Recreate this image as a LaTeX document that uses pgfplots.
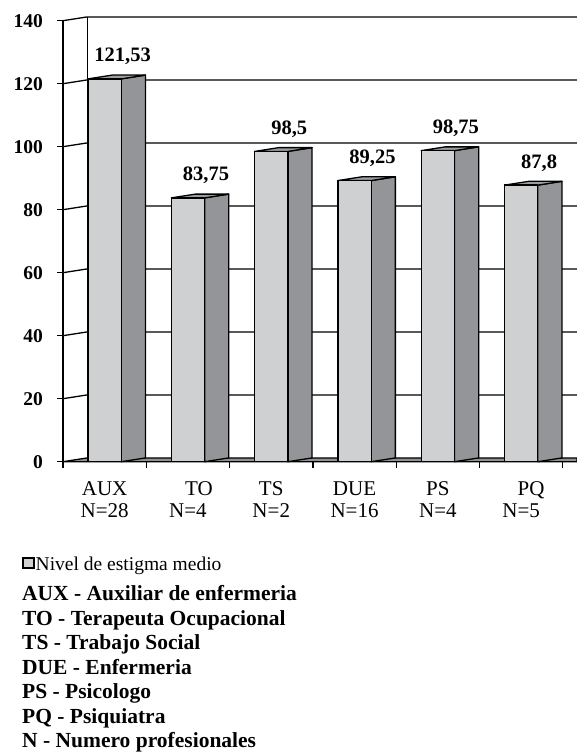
\documentclass[border=0pt]{standalone}
\usepackage{pgfplots}
\pgfplotsset{compat=1.18}
\usepackage{pgfplotstable}
\usepackage{fontspec}
\setmainfont{Liberation Serif}

\definecolor{frontgray}{HTML}{CED0D2}
\definecolor{sidegray}{HTML}{939598}
\definecolor{topgray}{HTML}{9C9DA0}
\definecolor{floorgray}{HTML}{8F9194}

% mean stigma level per professional group
\pgfplotstableread{
pos v lbl
0.5 121.53 121,53
1.5 83.75 83,75
2.5 98.5 98,5
3.5 89.25 89,25
4.5 98.75 98,75
5.5 87.8 87,8
}\stigma

% depth of the 3D extrusion (axis units) and half width of a bar
\newcommand\depx{0.29}
\newcommand\depy{1.2}
\newcommand\halfw{0.2}
\newcommand\xend{6.17}

\pgfplotsset{
  side face/.style={fill=sidegray, draw=black, line width=1.3pt, line join=round, forget plot, mark=none},
  top face/.style={fill=topgray, draw=black, line width=1.3pt, line join=round, forget plot, mark=none},
}

\begin{document}
\begin{tikzpicture}[x=1pt,y=1pt]
\path[use as bounding box] (0,0) rectangle (577,752);
\begin{axis}[
  at={(63pt,290.3pt)}, anchor=south west,
  x=83.3pt, y=3.15pt,
  xmin=0, xmax=\xend, ymin=0, ymax=140,
  clip=false,
  axis x line*=bottom, axis y line*=left,
  axis line style={-, line width=1.3pt, black},
  major tick length=0pt, minor tick length=0pt,
  tick style={draw=none},
  ytick={0,20,40,60,80,100,120,140},
  yticklabels={0,20,40,60,80,100,120,140},
  yticklabel style={font=\fontsize{19.5}{20}\selectfont\bfseries, inner sep=0pt, xshift=-20pt},
  xtick={0.5,1.5,2.5,3.5,4.5,5.5},
  xticklabels={{AUX\\N=28},{\hspace*{22pt}TO\\N=4},{TS\\N=2},{DUE\\N=16},{PS\\N=4},{\hspace*{20pt}PQ\\N=5}},
  xticklabel style={align=center, font=\fontsize{21}{22}\selectfont, inner sep=0pt, yshift=-20pt},
  legend style={at={(axis description cs:-0.0798,-0.2140)}, anchor=north west,
    draw=none, fill=none, inner sep=0pt, column sep=0pt,
    font=\fontsize{19.5}{20}\selectfont, nodes={inner sep=1pt}},
  legend cell align=left,
]

% back wall gridlines, continued across the left wall to the front ticks
\pgfplotsinvokeforeach{20,40,60,80,100,120,140}{
  \draw[black, line width=1.3pt] (axis cs:0,#1) -- (axis cs:\depx,#1+\depy) -- (axis cs:\xend,#1+\depy);
}
% left edge of the back wall
\draw[black, line width=1.3pt] (axis cs:\depx,\depy) -- (axis cs:\depx,140+\depy);
% floor
\filldraw[fill=floorgray, draw=black, line width=1.3pt, line join=round]
  (axis cs:0,0) -- (axis cs:\depx,\depy) -- (axis cs:\xend,\depy) -- (axis cs:\xend,0) -- cycle;

% tick marks
\pgfplotsinvokeforeach{0,20,40,60,80,100,120,140}{
  \draw[black, line width=1.3pt] (axis cs:0,#1) -- ++(-6pt,0);
}
\pgfplotsinvokeforeach{0,1,2,3,4,5,6}{
  \draw[black, line width=1.3pt] (axis cs:#1,0) -- ++(0,-6pt);
}

% side and top faces of each column
\pgfplotsinvokeforeach{0,1,2,3,4,5}{
  \pgfplotstablegetelem{#1}{v}\of\stigma
  \pgfmathsetmacro\va{\pgfplotsretval}
  \pgfmathsetmacro\vb{\va+\depy}
  \pgfmathsetmacro\xl{#1+0.5-\halfw}
  \pgfmathsetmacro\xr{#1+0.5+\halfw}
  \pgfmathsetmacro\xlb{\xl+\depx}
  \pgfmathsetmacro\xrb{\xr+\depx}
  \edef\faces{%
    \noexpand\addplot[side face] coordinates {(\xr,0) (\xrb,\depy) (\xrb,\vb) (\xr,\va)} -- cycle;
    \noexpand\addplot[top face] coordinates {(\xl,\va) (\xlb,\vb) (\xrb,\vb) (\xr,\va)} -- cycle;
  }\faces
}

% front faces of the columns
\addplot[ybar, bar width=0.4, fill=frontgray, draw=black, line width=1.3pt,
  area legend,
  legend image code/.code={\draw[fill=frontgray, line width=1.5pt] (0pt,-3pt) rectangle (11pt,7pt);},
  nodes near coords, point meta=explicit symbolic,
  nodes near coords style={anchor=base, xshift=18pt, yshift=17pt, inner sep=0pt,
    font=\fontsize{20.5}{21}\selectfont\bfseries, text=black}]
  table[x=pos, y=v, meta=lbl] {\stigma};
\addlegendentry{Nivel de estigma medio}
\end{axis}

\node[anchor=north west, inner sep=0pt, align=left,
  font=\fontsize{21.5}{24.5}\selectfont\bfseries] at (22,166.5)
  {AUX - Auxiliar de enfermeria\\
   TO - Terapeuta Ocupacional\\
   TS - Trabajo Social\\
   DUE - Enfermeria\\
   PS - Psicologo\\
   PQ - Psiquiatra\\
   N - Numero profesionales};
\end{tikzpicture}
\end{document}
